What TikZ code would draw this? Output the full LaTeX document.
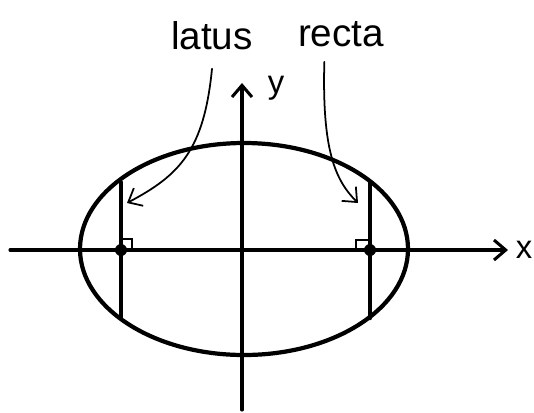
\documentclass[tikz,border=0pt]{standalone}
\usepackage{fontspec}
\setmainfont{Liberation Sans}
\usepackage{tikz}
\usetikzlibrary{arrows.meta}
\usetikzlibrary{positioning}

\begin{document}
\begin{tikzpicture}[x=0.03cm, y=-0.03cm,
    >={Straight Barb[length=3.5mm,width=6mm]},
    hand/.style={line width=3.6pt, line cap=round, line join=round},
    pointer/.style={line width=1.5pt, ->, line cap=round},
    word/.style={font=\fontsize{33}{33}\selectfont, inner sep=0pt}]
    \useasboundingbox (0,0) rectangle (534,412);
    % axes
    \coordinate (xstart) at (10,250);
    \coordinate (xend) at (508,250);
    \coordinate (ystart) at (242,410);
    \coordinate (yend) at (242,83);
    \draw[hand, line width=2.6pt, ->] (xstart) -- (xend);
    \draw[hand, line width=2.6pt, ->] (ystart) -- (yend);
    \node[word, font=\fontsize{28}{28}\selectfont] (xlab) at (524,250) {x};
    \node[word, font=\fontsize{28}{28}\selectfont] (ylab) at (276,88) {y};
    % ellipse
    \draw[hand] (244,249) ellipse (164 and 106);
    % latus recta
    \coordinate (lt) at (121,182);
    \coordinate (lb) at (121,318);
    \coordinate (rt) at (370,182);
    \coordinate (rb) at (370,318);
    \draw[hand, line width=2.8pt] (lt) -- (lb);
    \draw[hand, line width=3.8pt] (rt) -- (rb);
    \fill (121,250) circle (6);
    \fill (370,250) circle (6);
    \draw[line width=1.8pt] (122,239) -- (132,239) -- (132,250);
    \draw[line width=1.8pt] (369,240) -- (356,240) -- (356,250);
    % labels
    \node[word] (latus) at (212,36) {latus};
    \node[word] (recta) at (341,34) {recta};
    \coordinate (ltip) at (127,203);
    \coordinate (rtip) at (358,203);
    \draw[pointer] ([yshift=-0.55cm]latus.south) .. controls (204,150) and (180,175) .. (ltip);
    \draw[pointer] ([xshift=-0.5cm,yshift=-0.45cm]recta.south) .. controls (322,150) and (335,180) .. (rtip);
\end{tikzpicture}
\end{document}
